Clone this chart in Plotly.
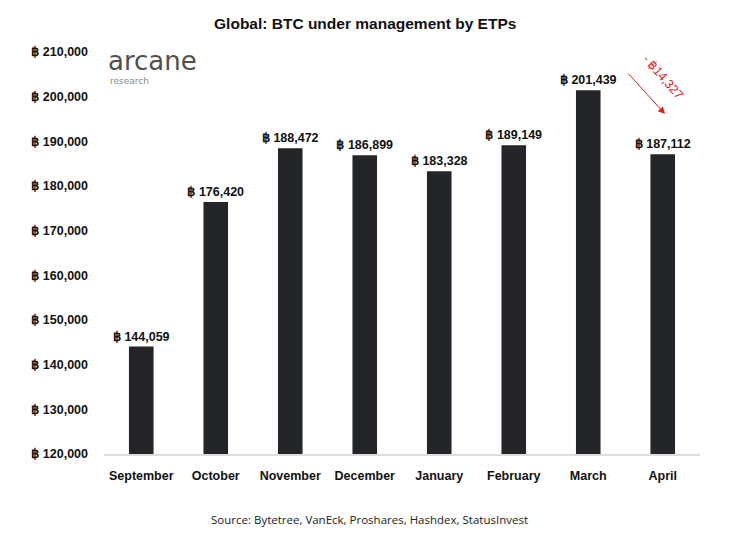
import plotly.graph_objects as go

months = ["September", "October", "November", "December", "January", "February", "March", "April"]
btc_held = [144059, 176420, 188472, 186899, 183328, 189149, 201439, 187112]
tick_vals = [120000, 130000, 140000, 150000, 160000, 170000, 180000, 190000, 200000, 210000]
tick_text = ["฿ {:,}".format(v) for v in tick_vals]

drop = btc_held[-2] - btc_held[-1]

fig = go.Figure()
fig.add_trace(go.Bar(
    x=months, y=btc_held,
    marker=dict(color="#232528", line=dict(width=0)),
    text=["฿ {:,}".format(v) for v in btc_held],
    textposition="outside",
    constraintext="none",
    textfont=dict(family="Liberation Sans", size=12.5, color="#111111", weight="bold"),
    cliponaxis=False,
    width=0.33,
))

# page body adds ~8px offset, so the figure is a bit smaller than the window
fig.update_layout(
    width=729, height=533,
    margin=dict(l=96, r=37, t=44, b=87),
    paper_bgcolor="white", plot_bgcolor="white",
    showlegend=False,
    title=dict(text="<b>Global: BTC under management by ETPs</b>", x=0.49, xanchor="center",
               y=0.97, yanchor="middle",
               font=dict(family="Liberation Sans", size=15.5, color="#111111")),
    font=dict(family="Liberation Sans", color="#111111"),
)
fig.update_xaxes(
    showline=True, linecolor="#dddddd", linewidth=1.5,
    showgrid=False, ticks="", ticklabelstandoff=9,
    tickfont=dict(family="Liberation Sans", size=12.5, color="#111111", weight="bold"),
)
fig.update_yaxes(
    range=[120000, 210000], tickvals=tick_vals, ticktext=tick_text,
    showgrid=False, zeroline=False, showline=False, ticks="", ticklabelstandoff=15,
    tickfont=dict(family="Liberation Sans", size=12.5, color="#111111", weight="bold"),
)

# logo
fig.add_annotation(text="arcane", xref="paper", yref="paper", x=0.003, y=0.977,
                   xanchor="left", yanchor="middle", showarrow=False,
                   font=dict(family="DejaVu Sans", size=26, color="#505050"))
fig.add_annotation(text="research", xref="paper", yref="paper", x=0.006, y=0.928,
                   xanchor="left", yanchor="middle", showarrow=False,
                   font=dict(family="DejaVu Sans", size=9, color="#8a8a8a"))

# drop arrow
fig.add_annotation(x=7.03, y=196100, ax=6.52, ay=205500, xref="x", yref="y", axref="x", ayref="y",
                   text="", showarrow=True, arrowhead=2, arrowsize=1.4, arrowwidth=1,
                   arrowcolor="#e02020")
fig.add_annotation(x=7.0, y=204400, xref="x", yref="y", showarrow=False,
                   text="- ฿{:,}".format(drop), textangle=49,
                   font=dict(family="Liberation Sans", size=12.5, color="#e02020"))

# source
fig.add_annotation(text="Source: Bytetree, VanEck, Proshares, Hashdex, StatusInvest",
                   xref="paper", yref="paper", x=0.445, y=-0.164, xanchor="center", yanchor="middle",
                   showarrow=False, font=dict(family="Open Sans", size=11.5, color="#222222"))

fig.write_html("out.html")
